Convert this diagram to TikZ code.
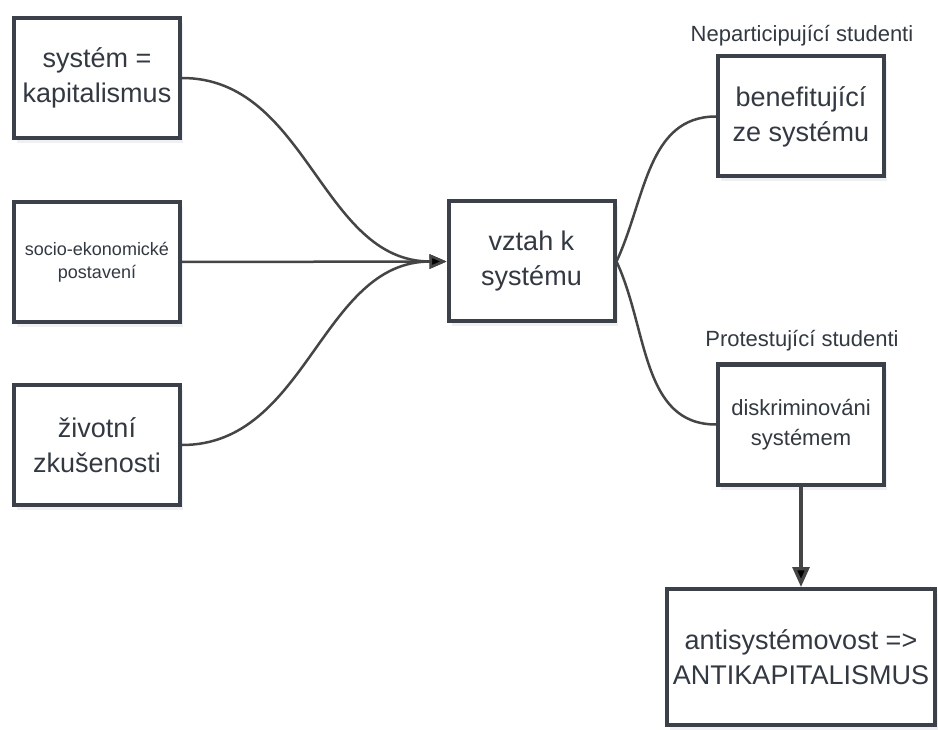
\documentclass[tikz,border=0pt]{standalone}
\usepackage{fontspec}
\setmainfont{Liberation Sans}
\usetikzlibrary{arrows.meta,shadows}
\definecolor{boxline}{HTML}{3A414B}
\definecolor{boxtext}{HTML}{323943}
\definecolor{wirecol}{HTML}{454545}
\tikzset{
	box/.style={draw=boxline, line width=4pt, fill=white, text=boxtext, align=center,
		minimum width=166pt, minimum height=120pt, inner sep=2pt,
		drop shadow={opacity=0.12, shadow xshift=3pt, shadow yshift=-5pt},
		font=\fontsize{27}{35}\selectfont},
	grouplabel/.style={text=boxtext, font=\fontsize{22}{26}\selectfont},
	wire/.style={draw=wirecol, line width=2.5pt},
}
\begin{document}
\begin{tikzpicture}[x=1pt,y=-1pt]
	\useasboundingbox (0,0) rectangle (938,730);
	% inputs
	\node[box] at (97,78)(kapital){systém =\\kapitalismus};
	\node[box, font=\fontsize{18}{23}\selectfont] at (97,262)(postaveni){socio-ekonomické\\postavení};
	\node[box] at (97,445)(zkusenosti){životní\\zkušenosti};
	% middle
	\node[box] at (531.5,261.5)(vztah){vztah k\\systému};
	% outcomes
	\node[grouplabel] at (802,36)(nepart){Neparticipující studenti};
	\node[box] at (801,116.5)(benef){benefitující\\ze systému};
	\node[grouplabel] at (802,341)(protest){Protestující studenti};
	\node[box, font=\fontsize{22}{30}\selectfont] at (801,424.5)(diskrim){diskriminováni\\systémem};
	\node[box, minimum width=268pt, minimum height=136pt] at (801,657)(anti){antisystémovost =>\\ANTIKAPITALISMUS};
	
	\path[wire, -{Triangle[length=17pt,width=14pt]}]
		(kapital) edge[out=0, in=180] (vztah)
		(postaveni) edge (vztah)
		(zkusenosti) edge[out=0, in=180] (vztah);
	\path[wire]
		(vztah.east) edge[out=65, in=180] (benef.west)
		(vztah.east) edge[out=-65, in=180] (diskrim.west);
	\path[wire, line width=3.3pt, -{Triangle[length=20pt,width=17pt]}]
		(diskrim) edge (anti);
\end{tikzpicture}
\end{document}
